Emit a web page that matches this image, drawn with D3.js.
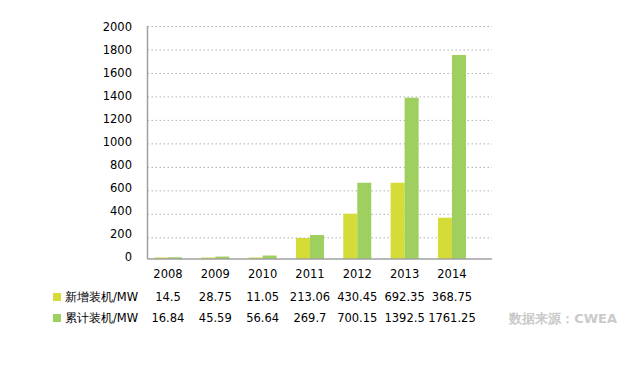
<!DOCTYPE html>
<html>
<head>
<meta charset="utf-8">
<script src="https://cdn.jsdelivr.net/npm/d3@7/dist/d3.min.js"></script>
<style>
  body { margin: 0; background: #fff; }
  svg { display: block; font-family: "DejaVu Sans", Verdana, sans-serif; }
  .grid line { stroke: #b0b0b0; stroke-dasharray: 1.5,2.5; }
  .grid .domain { display: none; }
</style>
</head>
<body>
<svg id="chart" width="619" height="373"></svg>
<script>
const years = ["2008", "2009", "2010", "2011", "2012", "2013", "2014"];
// bar heights as drawn in the picture (the table labels differ a bit)
const newInstalled = [28, 28, 28, 194, 401, 665, 367];
const totalInstalled = [30, 36, 45, 220, 665, 1389, 1753];
const newLabels = ["14.5", "28.75", "11.05", "213.06", "430.45", "692.35", "368.75"];
const totalLabels = ["16.84", "45.59", "56.64", "269.7", "700.15", "1392.5", "1761.25"];
const seriesNames = ["新增装机/MW", "累计装机/MW"];
const yTicks = [0, 200, 400, 600, 800, 1000, 1200, 1400, 1600, 1800, 2000];

const colors = ["#d5db37", "#9ecf5f"];
const margins = { left: 147.5, right: 492, top: 26, bottom: 259 };

const svg = d3.select("#chart");

const x = d3.scaleBand()
    .domain(years)
    .range([144.3, 144.3 + 47.33 * years.length])
    .paddingInner(0.408)
    .paddingOuter(0.204);

const y = d3.scaleLinear().domain([0, 2000]).range([260.8, margins.top]);
// tick labels sit on a slightly tighter scale than the grid
const yLabel = d3.scaleLinear().domain([0, 2000]).range([256.7, 27.3]);

// dotted grid lines
svg.append("g")
    .attr("class", "grid")
    .attr("transform", `translate(${margins.left},0)`)
    .call(d3.axisLeft(y).tickValues(yTicks.filter(d => d > 0))
        .tickSize(-(margins.right - margins.left)).tickFormat(""));

// y tick labels
svg.append("g").selectAll("text")
    .data(yTicks)
    .join("text")
    .attr("x", 132)
    .attr("y", d => yLabel(d))
    .attr("dy", "0.35em")
    .attr("text-anchor", "end")
    .attr("font-size", 11.5)
    .attr("fill", "#000")
    .text(d => d);

// bars, standing on the axis line
const half = x.bandwidth() / 2;
const bars = svg.append("g");
bars.selectAll("rect.new")
    .data(newInstalled)
    .join("rect")
    .attr("class", "new")
    .attr("x", (d, i) => x(years[i]))
    .attr("width", half)
    .attr("y", d => y(d))
    .attr("height", d => margins.bottom - y(d))
    .attr("fill", colors[0]);
bars.selectAll("rect.total")
    .data(totalInstalled)
    .join("rect")
    .attr("class", "total")
    .attr("x", (d, i) => x(years[i]) + half)
    .attr("width", half)
    .attr("y", d => y(d))
    .attr("height", d => margins.bottom - y(d))
    .attr("fill", colors[1]);

// axis lines
svg.append("line")
    .attr("x1", margins.left).attr("x2", margins.left)
    .attr("y1", margins.top).attr("y2", margins.bottom)
    .attr("stroke", "#a0a0a0").attr("stroke-width", 1.5);
svg.append("line")
    .attr("x1", margins.left).attr("x2", margins.right)
    .attr("y1", margins.bottom).attr("y2", margins.bottom)
    .attr("stroke", "#a0a0a0").attr("stroke-width", 1.5);

// data table below the axis
const cx = d => x(d) + x.bandwidth() / 2;
const table = svg.append("g").attr("font-size", 11.5).attr("fill", "#000");

table.selectAll("text.year")
    .data(years)
    .join("text")
    .attr("class", "year")
    .attr("x", d => cx(d))
    .attr("y", 274)
    .attr("dy", "0.35em")
    .attr("text-anchor", "middle")
    .text(d => d);

const rows = [newLabels, totalLabels];
const rowY = [297, 318];
rows.forEach((labels, r) => {
    table.append("rect")
        .attr("x", 53).attr("y", rowY[r] - 4)
        .attr("width", 8).attr("height", 8)
        .attr("fill", colors[r]);
    table.append("text")
        .attr("x", 65).attr("y", rowY[r])
        .attr("dy", "0.35em")
        .text(seriesNames[r]);
    table.selectAll(`text.v${r}`)
        .data(labels)
        .join("text")
        .attr("class", `v${r}`)
        .attr("x", (d, i) => cx(years[i]))
        .attr("y", rowY[r])
        .attr("dy", "0.35em")
        .attr("text-anchor", "middle")
        .text(d => d);
});

// source note
svg.append("text")
    .attr("x", 617).attr("y", 318)
    .attr("dy", "0.35em")
    .attr("text-anchor", "end")
    .attr("font-size", 13)
    .attr("font-weight", "bold")
    .attr("fill", "#cacaca")
    .text("数据来源：CWEA");
</script>
</body>
</html>
